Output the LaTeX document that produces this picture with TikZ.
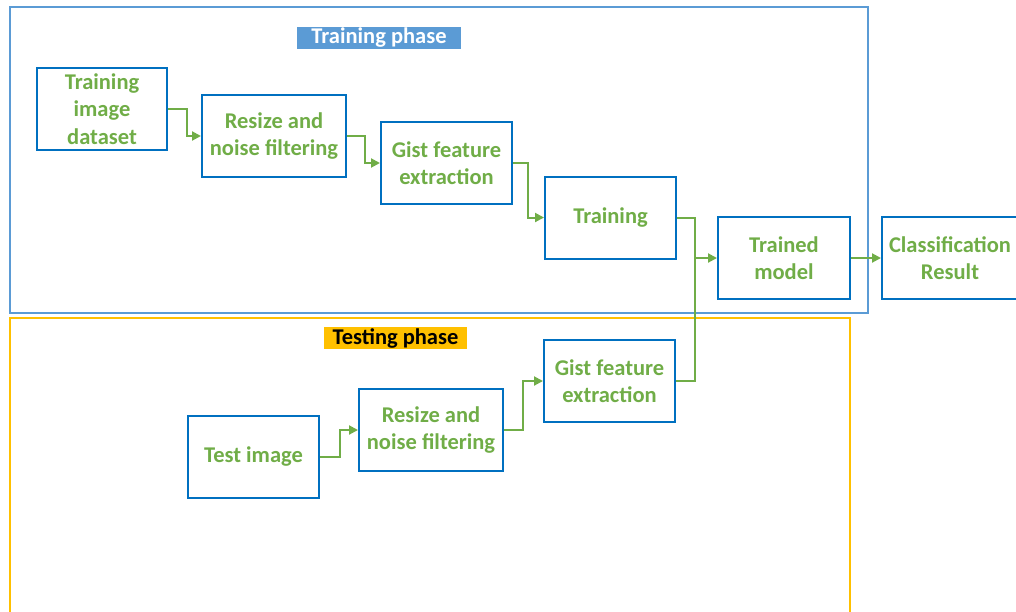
\documentclass[tikz,border=0pt]{standalone}
\usepackage{fontspec}
\setmainfont{Carlito}
\usetikzlibrary{positioning,arrows.meta}
\definecolor{boxblue}{HTML}{0070C0}
\definecolor{frameblue}{HTML}{5B9BD5}
\definecolor{txtgreen}{HTML}{70AD47}
\definecolor{frameorange}{HTML}{FFC000}

\begin{document}
\begin{tikzpicture}[x=1pt,y=-1pt,font=\bfseries\fontsize{22.5}{27.5}\selectfont,
    module/.style={rectangle,draw=boxblue,line width=2pt,text=txtgreen,minimum height=82pt,minimum width=131pt,align=center,inner sep=1pt},
    flow/.style={txtgreen,line width=2pt,-{Triangle[length=9pt,width=9pt]}},
    link/.style={txtgreen,line width=2pt}]
      \useasboundingbox (0,0) rectangle (1016,611);

      % phase frames
      \draw[frameblue,line width=2pt] (10,7) rectangle (868,313);
      \draw[frameorange,line width=2pt] (10,630) -- (10,318) -- (850,318) -- (850,630);
      \node[fill=frameblue,text=white,minimum width=164pt,minimum height=22pt,inner sep=0pt] (trainlbl) at (379,38) {Training phase};
      \node[fill=frameorange,text=black,minimum width=143pt,minimum height=22pt,inner sep=0pt] (testlbl) at (395.5,338) {Testing phase};

      % training modules
      \node[module,minimum width=130pt] (data) at (102,109) {Training\\image\\dataset};
      \node[module,minimum width=144pt] (resizeA) at (274,136) {Resize and\\noise filtering};
      \node[module] (gistA) at (446.5,163) {Gist feature\\extraction};
      \node[module] (train) at (610.5,217.5) {Training};
      \node[module,minimum width=132pt] (model) at (784,258) {Trained\\model};
      \node[module,minimum width=136pt] (result) at (950,258) {Classification\\Result};

      % testing modules
      \node[module] (test) at (253.5,457) {Test image};
      \node[module,minimum width=144pt] (resizeB) at (431,430) {Resize and\\noise filtering};
      \node[module] (gistB) at (609.5,381) {Gist feature\\extraction};

      % training flow
      \draw[flow] (data.east) -- ++(19,0) |- (resizeA.west);
      \draw[flow] (resizeA.east) -- ++(18,0) |- (gistA.west);
      \draw[flow] (gistA.east) -- ++(15,0) |- (train.west);
      \coordinate (join) at (695,258);
      \draw[flow] (train.east) -| (join) -- (model.west);
      \draw[flow] (model.east) -- (result.west);

      % testing flow
      \draw[flow] (test.east) -- ++(20,0) |- (resizeB.west);
      \draw[flow] (resizeB.east) -- ++(19,0) |- (gistB.west);
      \draw[link] (gistB.east) -| (join);
\end{tikzpicture}
\end{document}
